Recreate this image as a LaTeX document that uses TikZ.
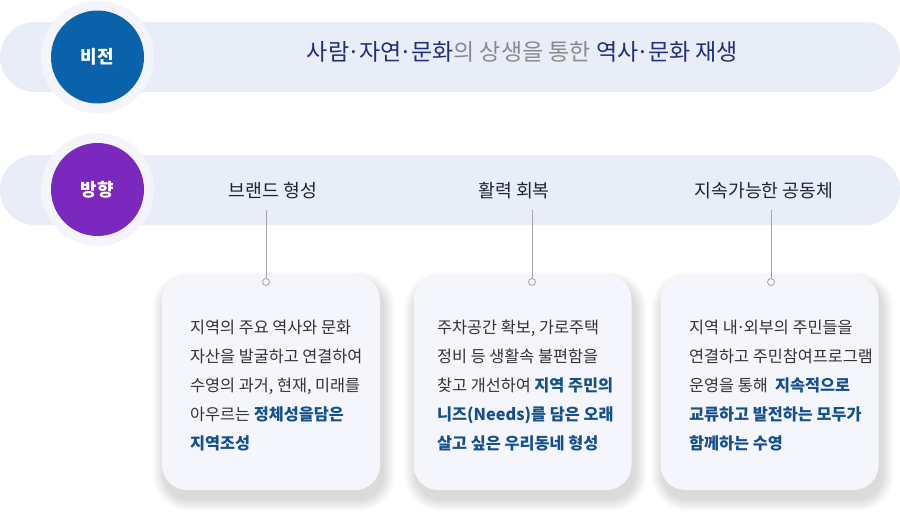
\documentclass[tikz,border=0pt]{standalone}
\usepackage{fontspec}
\setmainfont{Noto Sans CJK KR}
\definecolor{barbg}{HTML}{E9EDF8}
\definecolor{ringc}{HTML}{F3F5FB}
\definecolor{vblue}{HTML}{0A62AA}
\definecolor{vpurple}{HTML}{7B28BE}
\definecolor{navy}{HTML}{1F2F78}
\definecolor{graytxt}{HTML}{8A8A8A}
\definecolor{headtxt}{HTML}{1E2336}
\definecolor{bodytxt}{HTML}{333333}
\definecolor{hl}{HTML}{15508D}
\definecolor{cardbg}{HTML}{F5F6FB}
\definecolor{linegray}{HTML}{A5A5A5}
\pgfdeclarelayer{back}
\pgfdeclarelayer{shadowl}
\pgfsetlayers{back,shadowl,main}
\tikzset{
  bar/.style={fill=barbg, rounded corners=35pt, minimum width=900pt, minimum height=70pt, inner sep=0pt},
  ringnode/.style={circle, fill=ringc, minimum size=113pt, inner sep=0pt},
  disc/.style={circle, minimum size=93pt, inner sep=0pt, text=white, font=\fontsize{18}{20}\selectfont\bfseries},
  heading/.style={text=headtxt, font=\fontsize{18.3}{22}\selectfont, inner sep=0pt},
  card/.style={fill=cardbg, rounded corners=25pt, minimum width=218pt, minimum height=215pt, inner sep=0pt},
  shadowlayer/.style={fill=black, opacity=0.012},
  body/.style={anchor=north west, align=left, inner sep=0pt, text=bodytxt, font=\fontsize{16.3}{29}\selectfont},
  dot/.style={circle, draw=linegray, fill=cardbg, line width=0.8pt, minimum size=7pt, inner sep=0pt},
  conn/.style={draw=linegray, line width=0.8pt}
}
\newcommand{\hlt}[1]{\textcolor{hl}{\bfseries #1}}
\newcommand{\md}{\kern-1.5pt·\kern-1.5pt}
\newcommand{\cardshadow}[1]{%
  \begin{pgfonlayer}{shadowl}
  \foreach \i [evaluate=\i as \r using 25+\i] in {1,...,12}{
    \fill[shadowlayer, rounded corners=\r pt]
      ([shift={(3-\i,9-\i)}]#1.north west) rectangle ([shift={(3+\i,9+\i)}]#1.south east);
  }
  \end{pgfonlayer}}
\begin{document}
\begin{tikzpicture}[x=1pt,y=-1pt]
\useasboundingbox (0,0) rectangle (900,517);
\begin{pgfonlayer}{back}
\fill[white] (0,0) rectangle (900,517);
\end{pgfonlayer}
% bars
\node[bar] (vbar) at (450,57) {};
\node[bar] (dbar) at (450,190) {};
% circles
\node[ringnode] (vring) at (97.5,57) {};
\node[disc, fill=vblue] (vision) at (97.5,57) {비전};
\node[ringnode] (dring) at (97.5,189.5) {};
\node[disc, fill=vpurple] (direction) at (97.5,189.5) {방향};
% vision text
\node[inner sep=0pt, font=\fontsize{23}{27}\selectfont] (vtext) at (522.5,52)
  {\textcolor{navy}{사람\md 자연\md 문화}\textcolor{graytxt}{의 상생을 통한} \textcolor{navy}{역사\md 문화 재생}};
% headings
\node[heading] (h1) at (273,191) {브랜드 형성};
\node[heading] (h2) at (514,191) {활력 회복};
\node[heading] (h3) at (764,191) {지속가능한 공동체};
% cards
\node[card] (c1) at (271,382.5) {};
\node[card] (c2) at (522.5,382.5) {};
\node[card] (c3) at (769.5,382.5) {};
\cardshadow{c1}
\cardshadow{c2}
\cardshadow{c3}
% connectors
\coordinate (t1) at (266,210);
\coordinate (t2) at (532,210);
\coordinate (t3) at (771,210);
\node[dot] (d1) at (266,282) {};
\node[dot] (d2) at (532,282) {};
\node[dot] (d3) at (771,282) {};
\draw[conn] (t1) -- (d1.north);
\draw[conn] (t2) -- (d2.north);
\draw[conn] (t3) -- (d3.north);
% body texts
\node[body] (b1) at (190,320) {지역의 주요 역사와 문화\\자산을 발굴하고 연결하여\\수영의 과거, 현재, 미래를\\아우르는 \hlt{정체성을담은}\\\hlt{지역조성}};
\node[body] (b2) at (437,320) {주차공간 확보, 가로주택\\정비 등 생활속 불편함을\\찾고 개선하여 \hlt{지역 주민의}\\\hlt{니즈(Needs)를 담은 오래}\\\hlt{살고 싶은 우리동네 형성}};
\node[body] (b3) at (689,320) {지역 내\md 외부의 주민들을\\연결하고 주민참여프로그램\\운영을 통해~ \hlt{지속적으로}\\\hlt{교류하고 발전하는 모두가}\\\hlt{함께하는 수영}};
\end{tikzpicture}
\end{document}
